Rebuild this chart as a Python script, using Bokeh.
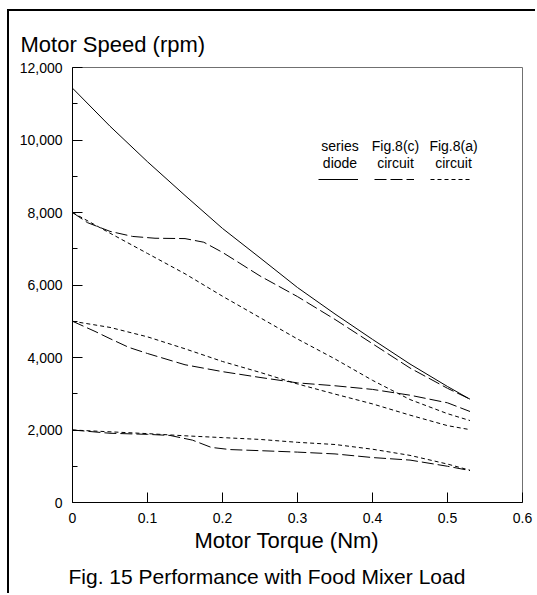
from bokeh.plotting import figure
from bokeh.models import (Range1d, FixedTicker, NumeralTickFormatter, Label,
                          Legend, LegendItem, Title)
from bokeh.embed import file_html
from bokeh.resources import INLINE

# ---- data ----
diode_torque = [0, 0.05, 0.1, 0.15, 0.2, 0.25, 0.3, 0.35, 0.4, 0.45, 0.5, 0.53]
diode_speed = [11430, 10380, 9400, 8470, 7560, 6750, 5930, 5200, 4500, 3820, 3200, 2850]

c_high_torque = [0, 0.02, 0.05, 0.08, 0.11, 0.15, 0.175, 0.2, 0.25, 0.3, 0.35, 0.4, 0.45, 0.5, 0.53]
c_high_speed = [8000, 7720, 7480, 7340, 7290, 7280, 7180, 6900, 6250, 5680, 5050, 4380, 3710, 3150, 2850]
c_mid_torque = [0, 0.03, 0.05, 0.075, 0.1, 0.15, 0.2, 0.25, 0.3, 0.35, 0.4, 0.45, 0.5, 0.53]
c_mid_speed = [5000, 4720, 4520, 4280, 4110, 3800, 3610, 3450, 3300, 3220, 3120, 2960, 2750, 2510]
c_low_torque = [0, 0.05, 0.1, 0.13, 0.16, 0.185, 0.21, 0.25, 0.3, 0.35, 0.4, 0.45, 0.5, 0.53]
c_low_speed = [2000, 1910, 1880, 1850, 1720, 1520, 1460, 1430, 1390, 1340, 1240, 1170, 1000, 880]

a_high_torque = [0, 0.05, 0.1, 0.15, 0.2, 0.25, 0.3, 0.35, 0.4, 0.45, 0.5, 0.53]
a_high_speed = [8000, 7430, 6870, 6310, 5690, 5100, 4510, 3960, 3370, 2840, 2450, 2260]
a_mid_torque = [0, 0.05, 0.1, 0.15, 0.2, 0.25, 0.3, 0.35, 0.4, 0.45, 0.5, 0.53]
a_mid_speed = [5000, 4830, 4570, 4240, 3890, 3590, 3270, 2990, 2720, 2410, 2120, 2010]
a_low_torque = [0, 0.05, 0.1, 0.15, 0.2, 0.25, 0.3, 0.35, 0.4, 0.45, 0.5, 0.53]
a_low_speed = [2000, 1950, 1900, 1840, 1790, 1740, 1660, 1600, 1470, 1300, 1060, 890]

x_ticks = [0, 0.1, 0.2, 0.3, 0.4, 0.5, 0.6]
y_ticks = [0, 2000, 4000, 6000, 8000, 10000, 12000]
y_minor_ticks = [1000, 3000, 5000, 7000, 9000, 11000]

legend_top = ["series", "Fig.8(c)", "Fig.8(a)"]
legend_bottom = ["diode", "circuit", "circuit"]

y_title = "Motor Speed (rpm)"
x_title = "Motor Torque (Nm)"
caption = "Fig. 15  Performance with Food Mixer Load"

FONT = "Liberation Sans"

p = figure(width=528, height=584, output_backend="svg", toolbar_location=None,
           x_range=Range1d(0, 0.6), y_range=Range1d(0, 12000),
           min_border_left=63, min_border_top=56, min_border_right=15, min_border_bottom=93,
           background_fill_color="white", border_fill_color="white")
p.styles = {"margin-left": "7px", "margin-top": "9px",
            "border-left": "2px solid black", "border-top": "2px solid black"}

p.grid.visible = False
p.outline_line_color = "#707070"
p.outline_line_width = 1

p.xaxis.ticker = FixedTicker(ticks=x_ticks)
p.yaxis.ticker = FixedTicker(ticks=y_ticks, minor_ticks=y_minor_ticks)
p.xaxis.formatter = NumeralTickFormatter(format="0.[0]")
p.yaxis.formatter = NumeralTickFormatter(format="0,0")
for ax in (p.xaxis, p.yaxis):
    ax.axis_line_color = "black"
    ax.major_tick_in = 10
    ax.major_tick_out = 0
    ax.minor_tick_in = 5
    ax.minor_tick_out = 0
    ax.major_tick_line_color = "black"
    ax.minor_tick_line_color = "black"
    ax.major_label_text_font = FONT
    ax.major_label_text_font_size = "14px"
    ax.major_label_text_color = "black"
    ax.major_label_standoff = 10

solid = dict(line_color="black", line_width=1)
dashed = dict(line_color="black", line_width=1, line_dash="12 4")
dotted = dict(line_color="black", line_width=1, line_dash="4 3")

r_d = p.line(diode_torque, diode_speed, **solid)
r_c = p.line(c_high_torque, c_high_speed, **dashed)
p.line(c_mid_torque, c_mid_speed, **dashed)
p.line(c_low_torque, c_low_speed, **dashed)
r_a = p.line(a_high_torque, a_high_speed, **dotted)
p.line(a_mid_torque, a_mid_speed, **dotted)
p.line(a_low_torque, a_low_speed, **dotted)

legend = Legend(items=[LegendItem(label=" ", renderers=[r]) for r in (r_d, r_c, r_a)],
                location=(246, 313), orientation="horizontal",
                glyph_width=40, glyph_height=20, label_width=0, label_height=20,
                label_standoff=0, label_text_font_size="1px", spacing=16,
                padding=0, margin=0, border_line_color=None, background_fill_alpha=0)
p.add_layout(legend)

leg_x = [328.5, 384, 442]
for i in range(3):
    p.add_layout(Label(x=leg_x[i], y=132, x_units="canvas", y_units="canvas", text=legend_top[i],
                       text_align="center", text_baseline="alphabetic",
                       text_font=FONT, text_font_size="14px", text_color="black"))
    p.add_layout(Label(x=leg_x[i], y=149, x_units="canvas", y_units="canvas", text=legend_bottom[i],
                       text_align="center", text_baseline="alphabetic",
                       text_font=FONT, text_font_size="14px", text_color="black"))

p.add_layout(Title(text=y_title, align="left", offset=-52, standoff=22, vertical_align="bottom",
                   text_font=FONT, text_font_size="22px", text_font_style="normal",
                   text_color="black"), "above")
p.add_layout(Title(text=x_title, align="left", offset=122, standoff=4, vertical_align="top",
                   text_font=FONT, text_font_size="22px", text_font_style="normal",
                   text_color="black"), "below")
p.add_layout(Title(text=caption, align="left", offset=-4, standoff=12, vertical_align="bottom",
                   text_font=FONT, text_font_size="21px", text_font_style="normal",
                   text_color="black"), "below")

open("out.html", "w").write(file_html(p, INLINE))
